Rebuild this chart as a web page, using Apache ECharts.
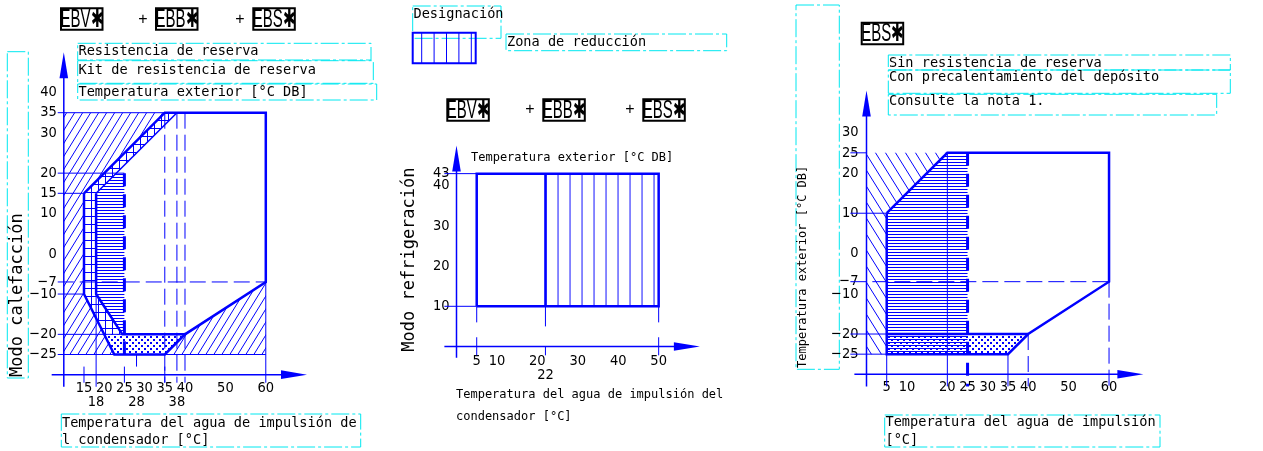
<!DOCTYPE html>
<html>
<head>
<meta charset="utf-8">
<script src="https://cdn.jsdelivr.net/npm/echarts@6/dist/echarts.min.js"></script>
<style>
html, body { margin: 0; background: #fff; }
#chart { width: 1263px; height: 451px; }
</style>
</head>
<body>
<div id="chart"></div>
<script>
// ---- heating mode, EBV + EBB + EBS (left) ----
var heatXLabels = [15, 20, 25, 30, 35, 40, 50, 60];
var heatXLabelsLow = [18, 28, 38];
var heatYLabels = [40, 35, 30, 20, 15, 10, 0, -7, -10, -20, -25];
var heatOutside = [
  [[10, 35], [35, 35], [15, 15], [15, -10], [22.5, -25], [10, -25]],
  [[60, -7], [60, -25], [35, -25], [40, -20]]
];
var heatKitBand = [[[15, 15], [35, 35], [38, 35], [18, 15], [18, -10], [24.5, -20], [20, -20], [15, -10]]];
var heatBackup = [[[18, 15], [23, 20], [25, 20], [25, -20], [24.5, -20], [18, -10]]];
var heatLowZone = [[[20, -20], [40, -20], [35, -25], [22.5, -25]]];
var heatEnvelope = [[[15, 15], [35, 35], [60, 35], [60, -7], [40, -20], [35, -25], [22.5, -25], [15, -10], [15, 15]],
  [[18, 15], [18, -10], [24.5, -20], [40, -20]]];
var heatInner = [[[18, 15], [38, 35]]];
var heatThin = [[8.5, 35, 35, 35], [8.5, 20, 25, 20], [8.5, 15, 15, 15], [8.5, -10, 15, -10],
  [8.5, -20, 40, -20], [8.5, -25, 60, -25], [18, -10, 18, -33], [28, -25, 28, -28], [60, -7, 60, -32],
  [15, -28, 15, -32], [25, -28, 25, -32], [35, -28, 35, -32]];
var heatDashed = [[8.5, -7, 60, -7], [35, 35, 35, -32], [38, 35, 38, -32], [40, 35, 40, -32]];
var heatThickDashed = [[25, 20, 25, -25]];

// ---- cooling mode (middle) ----
var coolXLabels = [5, 10, 20, 30, 40, 50];
var coolXLabelsLow = [22];
var coolYLabels = [40, 30, 20, 10];
var coolYLabelsTop = [43];
var coolRange = [[[5, 10], [5, 43], [50, 43], [50, 10], [5, 10]], [[22, 10], [22, 43]]];
var coolReduction = [[[22, 10], [22, 43], [50, 43], [50, 10]]];
var coolThin = [[-3, 43, 5, 43], [-3, 10, 5, 10], [5, 10, 5, 6], [50, 10, 50, 6], [22, 10, 22, 5],
  [5, 2.3, 5, -2.2], [50, 2.3, 50, -2.2], [22, 0, 22, -2.2]];

// ---- EBS only, tank preheating (right) ----
var tankXLabels = [5, 10, 20, 25, 30, 35, 40, 50, 60];
var tankYLabels = [30, 25, 20, 10, 0, -7, -10, -20, -25];
var tankOutside = [[[0, 25], [20, 25], [5, 10], [5, -25], [0, -25]]];
var tankBackup = [[[5, 10], [20, 25], [25, 25], [25, -25], [5, -25]]];
var tankLowZone = [[[5, -20], [40, -20], [35, -25], [5, -25]]];
var tankEnvelope = [[[5, 10], [20, 25], [60, 25], [60, -7], [40, -20], [35, -25], [5, -25], [5, 10]],
  [[5, -20], [40, -20]]];
var tankThin = [[-4, 25, 0, 25], [-4, 10, 5, 10], [-4, -20, 5, -20], [-4, -25, 5, -25],
  [20, 25, 20, -33], [5, -25, 5, -33], [35, -25, 35, -33]];
var tankDashed = [[-4, -7, 60, -7], [60, -7, 60, -33], [40, -20, 40, -33]];
var tankThickDashed = [[25, 25, 25, -33]];

var BLUE = '#0000ff';
var MONO = "'DejaVu Sans Mono', monospace";
var NUM = "'Liberation Sans Narrow', 'DejaVu Sans Condensed', 'Liberation Sans', sans-serif";

function pattern(w, h, draw, extra) {
  var c = document.createElement('canvas');
  c.width = w; c.height = h;
  var g = c.getContext('2d');
  g.strokeStyle = BLUE; g.fillStyle = BLUE; g.lineWidth = 1;
  draw(g, w, h);
  var p = { image: c, repeat: 'repeat' };
  for (var k in extra || {}) p[k] = extra[k];
  return p;
}
function seg(g, a, b, c, d) { g.beginPath(); g.moveTo(a, b); g.lineTo(c, d); g.stroke(); }

var hatchSlash = pattern(8, 13, function (g, w, h) { seg(g, 0, h, w, 0); seg(g, -w, h, 0, 0); seg(g, w, h, 2 * w, 0); });
var hatchBack = pattern(10, 16, function (g, w, h) { seg(g, 0, 0, w, h); seg(g, -w, 0, 0, h); seg(g, w, 0, 2 * w, h); });
var hLines = pattern(4, 3, function (g) { g.fillRect(0, 0, 4, 1); });
var gridLines = pattern(7, 8, function (g) { g.fillRect(0, 0, 1, 8); g.fillRect(0, 0, 7, 1); });
var dots = pattern(6, 6, function (g) { g.fillRect(0, 0, 2, 2); g.fillRect(3, 3, 2, 2); });
var vLines = pattern(12, 4, function (g) { g.fillRect(0, 0, 1, 4); }, { x: 545.5 });

function fillSeries(grid, polys, fill) {
  return {
    type: 'custom', xAxisIndex: grid, yAxisIndex: grid, clip: false, silent: true,
    data: polys.map(function (_, i) { return [i, i]; }),
    renderItem: function (params, api) {
      var pts = polys[params.dataIndex].map(function (p) { return api.coord(p); });
      return { type: 'polygon', shape: { points: pts }, style: { fill: fill, stroke: null } };
    }
  };
}
function pathSeries(grid, paths, width, dash) {
  return {
    type: 'custom', xAxisIndex: grid, yAxisIndex: grid, clip: false, silent: true,
    data: paths.map(function (_, i) { return [i, i]; }),
    renderItem: function (params, api) {
      var pts = paths[params.dataIndex].map(function (p) { return api.coord(p); });
      return { type: 'polyline', shape: { points: pts },
        style: { fill: null, stroke: BLUE, lineWidth: width, lineDash: dash || null, lineJoin: 'miter' } };
    }
  };
}
function segSeries(grid, segs, width, dash) {
  return {
    type: 'custom', xAxisIndex: grid, yAxisIndex: grid, clip: false, silent: true,
    data: segs.map(function (_, i) { return [i, i]; }),
    renderItem: function (params, api) {
      var s = segs[params.dataIndex];
      var a = api.coord([s[0], s[1]]), b = api.coord([s[2], s[3]]);
      return { type: 'line', shape: { x1: a[0], y1: a[1], x2: b[0], y2: b[1] },
        style: { stroke: BLUE, lineWidth: width, lineDash: dash || null } };
    }
  };
}
function axisSeries(grid, xFrom, xTo, yAt, yFrom, yTo, xAt) {
  return {
    type: 'custom', xAxisIndex: grid, yAxisIndex: grid, clip: false, silent: true,
    data: [[0, 0]],
    renderItem: function (params, api) {
      var a = api.coord([xFrom, yAt]), b = api.coord([xTo, yAt]);
      var c = api.coord([xAt, yFrom]), d = api.coord([xAt, yTo]);
      var L = 26, W = 4.3;
      return { type: 'group', children: [
        { type: 'line', shape: { x1: a[0], y1: a[1], x2: b[0] - L + 2, y2: b[1] }, style: { stroke: BLUE, lineWidth: 1.5 } },
        { type: 'polygon', shape: { points: [[b[0], b[1]], [b[0] - L, b[1] - W], [b[0] - L, b[1] + W]] }, style: { fill: BLUE } },
        { type: 'line', shape: { x1: c[0], y1: c[1], x2: d[0], y2: d[1] + L - 2 }, style: { stroke: BLUE, lineWidth: 1.5 } },
        { type: 'polygon', shape: { points: [[d[0], d[1]], [d[0] - W, d[1] + L], [d[0] + W, d[1] + L]] }, style: { fill: BLUE } }
      ] };
    }
  };
}

function fmt(low) {
  return function (v) {
    var s = v < 0 ? '\u2212' + (-v) : String(v);
    return low.indexOf(v) >= 0 ? '\n' + s : s;
  };
}
function axis(grid, min, max, labels, low, margin, pos) {
  low = low || [];
  var a = {
    type: 'value', gridIndex: grid, min: min, max: max,
    axisLine: { show: false }, axisTick: { show: false }, splitLine: { show: false },
    axisLabel: { customValues: labels.concat(low), formatter: fmt(low), margin: margin, hideOverlap: false,
      color: '#000', fontSize: 14.5, lineHeight: 14.5, fontFamily: NUM }
  };
  if (pos) a.position = pos;
  return a;
}

// ---- texts and frames ----
var graphics = [];
function cyanBox(x, y, w, h) {
  graphics.push({ type: 'rect', silent: true, shape: { x: x, y: y, width: w, height: h },
    style: { fill: null, stroke: '#00e8f0', lineWidth: 1, lineDash: [18, 3, 3, 3] } });
}
function txt(s, x, y, size, rot) {
  graphics.push({ type: 'text', silent: true, x: x, y: y, rotation: rot || 0,
    style: { text: s, font: size + 'px ' + MONO, fill: '#000', align: 'left', verticalAlign: 'middle' } });
}
function tag(s, x, y) {
  graphics.push({ type: 'rect', silent: true, shape: { x: x, y: y, width: 41.5, height: 21.5 },
    style: { fill: null, stroke: '#000', lineWidth: 2 } });
  graphics.push({ type: 'text', silent: true, x: x + 20.8, y: y + 11.5, scaleX: 0.6,
    style: { text: s, font: '25px "Liberation Sans", sans-serif', fill: '#000', align: 'center', verticalAlign: 'middle' } });
}
function plus(x, y) {
  graphics.push({ type: 'text', silent: true, x: x, y: y,
    style: { text: '+', font: '16px "Liberation Sans", sans-serif', fill: '#000', align: 'center', verticalAlign: 'middle' } });
}

tag('EBV\u2731', 61, 8.3); plus(143, 20); tag('EBB\u2731', 156, 8.3); plus(240, 20); tag('EBS\u2731', 253.3, 8.3);
cyanBox(77.7, 43.3, 293.3, 16.7); txt('Resistencia de reserva', 78.5, 51.7, 13.6);
cyanBox(77.7, 60.7, 295.6, 22.6); txt('Kit de resistencia de reserva', 78.5, 70, 13.6);
cyanBox(77.7, 84, 299, 16); txt('Temperatura exterior [°C DB]', 78.5, 92.3, 13.6);
cyanBox(7.3, 51.7, 21, 326.3); txt('Modo calefacción', 18, 377, 17, Math.PI / 2);
cyanBox(61.3, 414, 299.4, 33);
txt('Temperatura del agua de impulsión de', 62, 423.3, 13.6); txt('l condensador [°C]', 62, 440, 13.6);

cyanBox(412.7, 6, 88.3, 32.3); txt('Designación', 413.5, 14.5, 13.6);
graphics.push({ type: 'rect', silent: true, shape: { x: 412.7, y: 32.7, width: 63, height: 30.6 },
  style: { fill: null, stroke: BLUE, lineWidth: 2 } });
for (var i = 0; i < 5; i++) {
  graphics.push({ type: 'line', silent: true, shape: { x1: 421.7 + i * 12.4, y1: 32.7, x2: 421.7 + i * 12.4, y2: 63.3 },
    style: { stroke: BLUE, lineWidth: 1 } });
}
cyanBox(506, 34, 220.7, 16.7); txt('Zona de reducción', 507, 42.7, 13.6);
tag('EBV\u2731', 447.3, 99.3); plus(530, 110); tag('EBB\u2731', 543.3, 99.3); plus(630, 110); tag('EBS\u2731', 643.3, 99.3);
txt('Temperatura exterior [°C DB]', 471, 157.5, 12);
txt('Modo refrigeración', 410, 351.7, 17, Math.PI / 2);
txt('Temperatura del agua de impulsión del', 456, 395, 12);
txt('condensador [°C]', 456, 416.7, 12);

cyanBox(796, 5, 43.3, 364.3); txt('Temperatura exterior [°C DB]', 802.5, 368, 12, Math.PI / 2);
tag('EBS\u2731', 861.7, 22.7);
cyanBox(888.3, 55, 342, 15); txt('Sin resistencia de reserva', 889, 63.3, 13.6);
cyanBox(888.3, 70, 342, 23.3); txt('Con precalentamiento del depósito', 889, 77.3, 13.6);
cyanBox(888.3, 94.3, 328.4, 20.7); txt('Consulte la nota 1.', 889, 101.7, 13.6);
cyanBox(884.7, 415, 275.3, 32);
txt('Temperatura del agua de impulsión', 885.5, 422.7, 13.6); txt('[°C]', 885.5, 440, 13.6);

var chart = echarts.init(document.getElementById('chart'), null, { renderer: 'canvas' });
chart.setOption({
  animation: false,
  backgroundColor: '#fff',
  grid: [
    { left: 63.8, top: 52.25, width: 243.2, height: 322.4, outerBoundsMode: 'none' },
    { left: 456.5, top: 145.5, width: 243.4, height: 201, outerBoundsMode: 'none' },
    { left: 866.5, top: 90.4, width: 276.9, height: 283.9, outerBoundsMode: 'none' }
  ],
  xAxis: [
    axis(0, 10, 70.2, heatXLabels, heatXLabelsLow, 6),
    axis(1, 0, 60.2, coolXLabels, coolXLabelsLow, 7),
    axis(2, 0, 68.5, tankXLabels, [], 6)
  ],
  yAxis: [
    axis(0, -30, 50, heatYLabels, [], 7, 'left'),
    axis(1, 0, 50, coolYLabels, [], 7, 'left'),
    axis(2, -30, 40.5, tankYLabels, [], 8, 'left'),
    axis(1, 0, 50, coolYLabelsTop, [], 7, 'left')
  ],
  graphic: { elements: graphics },
  series: [
    fillSeries(0, heatOutside, hatchSlash),
    fillSeries(0, heatKitBand, gridLines),
    fillSeries(0, heatBackup, hLines),
    fillSeries(0, heatLowZone, dots),
    segSeries(0, heatThin, 1),
    segSeries(0, heatDashed, 1, [16, 6]),
    segSeries(0, heatThickDashed, 3, [13, 8]),
    pathSeries(0, heatInner, 1.5),
    pathSeries(0, heatEnvelope, 2.5),
    axisSeries(0, 7, 70.2, -30, -33, 50, 10),

    fillSeries(1, coolReduction, vLines),
    segSeries(1, coolThin, 1),
    pathSeries(1, coolRange, 2.5),
    axisSeries(1, -3, 60.2, 0, -2.8, 50, 0),

    fillSeries(2, tankOutside, hatchBack),
    fillSeries(2, tankBackup, hLines),
    fillSeries(2, tankLowZone, dots),
    segSeries(2, tankThin, 1),
    segSeries(2, tankDashed, 1, [16, 6]),
    segSeries(2, tankThickDashed, 3, [13, 8]),
    pathSeries(2, tankEnvelope, 2.5),
    axisSeries(2, -3, 68.5, -30, -33, 40.5, 0)
  ]
});
</script>
</body>
</html>
